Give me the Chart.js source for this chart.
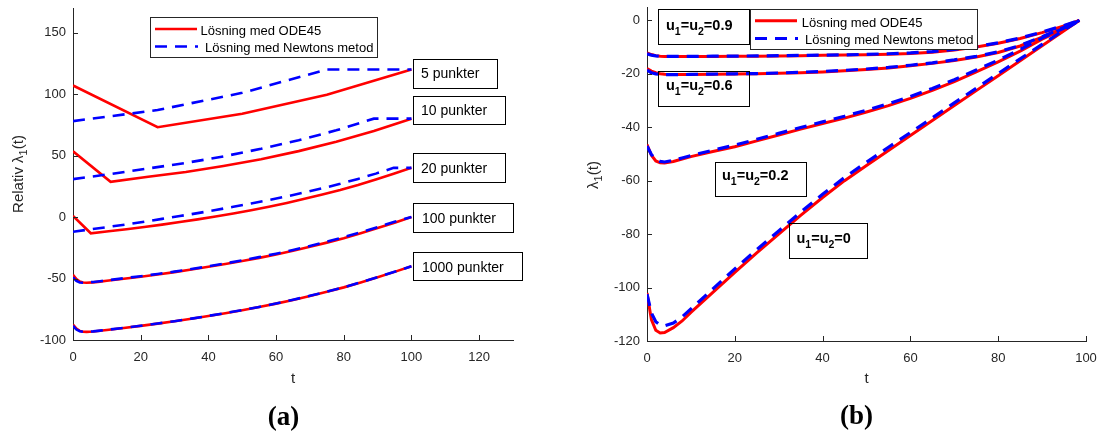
<!DOCTYPE html>
<html>
<head>
<meta charset="utf-8">
<script src="https://cdn.jsdelivr.net/npm/chart.js@4.4.1/dist/chart.umd.min.js"></script>
<style>
body { margin: 0; background: #fff; width: 1101px; height: 435px; overflow: hidden; position: relative; }
canvas { position: absolute; top: 0; }
</style>
</head>
<body>
<canvas id="chartA" width="550" height="435" style="left:0"></canvas>
<canvas id="chartB" width="551" height="435" style="left:550px"></canvas>
<script>
// (a) relative lambda_1, shifted per number of points
var tA5 = [0, 25, 50, 75, 100];
var odeA5 = [107, 73, 84, 99.5, 120];
var newtonA5 = [78, 87, 101, 120, 120];

var tA10 = [0, 11.11, 22.22, 33.33, 44.44, 55.56, 66.67, 77.78, 88.89, 100];
var odeA10 = [53.5, 28.6, 32.8, 36.6, 41.5, 47, 53.6, 61.2, 70, 80];
var newtonA10 = [30.8, 35, 39.5, 44, 49.3, 55.5, 62.5, 70.5, 80, 80];

var tA20 = [0, 5.26, 10.53, 15.79, 21.05, 26.32, 31.58, 36.84, 42.11, 47.37, 52.63, 57.89, 63.16, 68.42, 73.68, 78.95, 84.21, 89.47, 94.74, 100];
var odeA20 = [1, -13.2, -11.6, -9.9, -8.1, -6.2, -4.1, -1.9, 0.5, 2.9, 5.5, 8.4, 11.5, 14.8, 18.3, 22, 26.1, 30.6, 35.2, 40];
var newtonA20 = [-12, -10, -8, -6, -3.8, -1.5, 0.8, 3.2, 5.7, 8.3, 11, 13.8, 16.8, 20, 23.4, 27, 31, 35.3, 40, 40];

var tA = [0, 1, 2, 3, 4, 6, 8, 10, 15, 20, 25, 30, 35, 40, 45, 50, 55, 60, 65, 70, 75, 80, 85, 90, 95, 100];
var odeA100 = [-47, -50.5, -52.5, -53.2, -53.4, -53.1, -52.5, -51.8, -50.2, -48.5, -46.7, -44.8, -42.7, -40.5, -38.2, -35.8, -33.2, -30.4, -27.4, -24.2, -20.8, -17.2, -13.2, -9, -4.6, 0];
var newtonA100 = [-49, -52, -53.2, -53.4, -53.3, -52.8, -52.2, -51.5, -49.8, -48.1, -46.3, -44.4, -42.3, -40.1, -37.7, -35.3, -32.6, -29.8, -26.8, -23.5, -20.1, -16.4, -12.4, -8.2, -3.8, 0];
var odeA1000 = [-87.5, -90.8, -92.6, -93.3, -93.4, -93.1, -92.5, -91.8, -90.2, -88.5, -86.7, -84.8, -82.7, -80.5, -78.2, -75.8, -73.2, -70.4, -67.4, -64.2, -60.8, -57.2, -53.2, -49, -44.6, -40];
var newtonA1000 = [-88.5, -91.5, -92.9, -93.3, -93.4, -93, -92.4, -91.7, -90.1, -88.4, -86.6, -84.7, -82.6, -80.4, -78.1, -75.7, -73.1, -70.3, -67.3, -64.1, -60.7, -57.1, -53.1, -48.9, -44.5, -40];

var xTicksA = [0, 20, 40, 60, 80, 100, 120];
var yTicksA = [-100, -50, 0, 50, 100, 150];
var pointLabelsA = ['5 punkter', '10 punkter', '20 punkter', '100 punkter', '1000 punkter'];

// (b) lambda_1 for different u1 = u2
var tB = [0, 1, 2, 3, 4, 6, 8, 10, 15, 20, 25, 30, 35, 40, 45, 50, 55, 60, 65, 70, 75, 80, 85, 90, 95, 98.5];
var odeB09 = [-12.2, -12.8, -13.2, -13.4, -13.5, -13.5, -13.5, -13.5, -13.5, -13.4, -13.4, -13.3, -13.2, -13.1, -13, -12.9, -12.7, -12.4, -11.9, -11.1, -10, -8.6, -6.8, -4.6, -2.1, 0];
var newtonB09 = [-12.5, -13, -13.3, -13.4, -13.5, -13.5, -13.5, -13.5, -13.4, -13.4, -13.3, -13.2, -13.1, -13, -12.9, -12.7, -12.5, -12.2, -11.7, -10.9, -9.8, -8.4, -6.6, -4.4, -1.9, 0];
var odeB06 = [-18, -19, -19.6, -20, -20.2, -20.3, -20.3, -20.3, -20.2, -20.1, -20, -19.8, -19.6, -19.3, -18.9, -18.4, -17.8, -17, -16.1, -15, -13.7, -12, -9.6, -6.3, -2.8, 0];
var newtonB06 = [-18.6, -19.6, -20, -20.2, -20.3, -20.3, -20.3, -20.2, -20.1, -20, -19.9, -19.7, -19.4, -19.1, -18.7, -18.2, -17.6, -16.8, -15.9, -14.8, -13.5, -11.8, -9.4, -6.1, -2.6, 0];
var odeB02 = [-46.5, -50.5, -52.6, -53.3, -53.4, -52.8, -51.9, -51, -49.1, -47.3, -45.1, -42.9, -40.7, -38.6, -36.6, -34.3, -31.9, -29.2, -26.2, -22.9, -19.3, -15.5, -11.5, -7, -3.2, 0];
var newtonB02 = [-47, -50.2, -52, -52.8, -53, -52.4, -51.5, -50.6, -48.6, -46.7, -44.5, -42.3, -40.1, -38, -35.9, -33.6, -31.2, -28.5, -25.5, -22.2, -18.6, -14.9, -10.9, -6.6, -2.9, 0];
var odeB0 = [-102, -112, -116, -117, -116.8, -115, -112.5, -109.3, -101.8, -94.3, -87, -80, -73, -66.3, -60, -54.3, -48.7, -43.1, -37.5, -31.9, -26.3, -20.7, -15.1, -9.5, -3.9, 0];
var newtonB0 = [-102.5, -109.5, -112.8, -114, -114.3, -113.3, -111, -108, -100.5, -93, -85.8, -78.8, -71.8, -65.1, -58.8, -53.1, -47.5, -42, -36.5, -30.9, -25.4, -19.9, -14.4, -9, -3.6, 0];

var xTicksB = [0, 20, 40, 60, 80, 100];
var yTicksB = [-120, -100, -80, -60, -40, -20, 0];
var uLabelsB = ['0.9', '0.6', '0.2', '0'];

var legendTexts = ['Lösning med ODE45', 'Lösning med Newtons metod'];

var axisColor = '#262626';
var sans = '"Liberation Sans", Arial, Helvetica, sans-serif';
var odeColor = '#ff0000';
var newtonColor = '#0000ff';
var dash = [12, 8];

function pts(ts, vs) {
    return ts.map(function (t, i) { return { x: t, y: vs[i] }; });
}

function odeSet(ts, vs, w) {
    return { data: pts(ts, vs), borderColor: odeColor, borderWidth: w, pointRadius: 0, tension: 0, order: 2 };
}

function newtonSet(ts, vs, w) {
    return { data: pts(ts, vs), borderColor: newtonColor, borderWidth: w, borderDash: dash, pointRadius: 0, tension: 0, order: 1 };
}

function axisX(min, max, ticks, h) {
    return {
        type: 'linear', min: min, max: max,
        grid: { display: false, drawTicks: false },
        border: { display: true, color: axisColor, width: 1 },
        ticks: { color: axisColor, font: { family: sans, size: 13 }, padding: 10, maxRotation: 0, autoSkip: false },
        afterBuildTicks: function (s) { s.ticks = ticks.map(function (v) { return { value: v }; }); },
        afterFit: function (s) { s.height = h; s.paddingLeft = 0; s.paddingRight = 0; s.paddingTop = 0; s.paddingBottom = 0; }
    };
}

function axisY(min, max, ticks, w) {
    return {
        type: 'linear', min: min, max: max,
        grid: { display: false, drawTicks: false },
        border: { display: true, color: axisColor, width: 1 },
        ticks: { color: axisColor, font: { family: sans, size: 13 }, padding: 7, autoSkip: false },
        afterBuildTicks: function (s) { s.ticks = ticks.map(function (v) { return { value: v }; }); },
        afterFit: function (s) { s.width = w; s.paddingLeft = 0; s.paddingRight = 0; s.paddingTop = 0; s.paddingBottom = 0; }
    };
}

function inwardTicks(chart) {
    var ctx = chart.ctx, area = chart.chartArea, sx = chart.scales.x, sy = chart.scales.y;
    ctx.save();
    ctx.strokeStyle = axisColor;
    ctx.lineWidth = 1;
    ctx.beginPath();
    sx.ticks.forEach(function (t) {
        var px = Math.round(sx.getPixelForValue(t.value)) + 0.5;
        ctx.moveTo(px, area.bottom);
        ctx.lineTo(px, area.bottom - 5);
    });
    sy.ticks.forEach(function (t) {
        var py = Math.round(sy.getPixelForValue(t.value)) + 0.5;
        ctx.moveTo(area.left, py);
        ctx.lineTo(area.left + 5, py);
    });
    ctx.stroke();
    ctx.restore();
}

function legendBox(ctx, b, rows) {
    ctx.save();
    ctx.fillStyle = '#fff';
    ctx.fillRect(b[0], b[1], b[2], b[3]);
    ctx.strokeStyle = axisColor;
    ctx.lineWidth = 1;
    ctx.strokeRect(b[0] + 0.5, b[1] + 0.5, b[2], b[3]);
    rows.forEach(function (r) {
        ctx.beginPath();
        ctx.strokeStyle = r.color;
        ctx.lineWidth = r.width;
        ctx.setLineDash(r.dash);
        ctx.moveTo(r.x0, r.y);
        ctx.lineTo(r.x1, r.y);
        ctx.stroke();
        ctx.setLineDash([]);
        ctx.fillStyle = '#000';
        ctx.font = '13px ' + sans;
        ctx.textBaseline = 'alphabetic';
        ctx.fillText(r.text, r.tx, r.ty);
    });
    ctx.restore();
}

function frame(ctx, x, y, w, h) {
    ctx.save();
    ctx.strokeStyle = '#000';
    ctx.lineWidth = 1;
    ctx.strokeRect(x + 0.5, y + 0.5, w, h);
    ctx.restore();
}

// parts: [text, size, shift, bold]
function richText(ctx, parts, x, y) {
    parts.forEach(function (p) {
        ctx.font = (p[3] ? 'bold ' : '') + p[1] + 'px ' + sans;
        ctx.fillText(p[0], x, y + p[2]);
        x += ctx.measureText(p[0]).width;
    });
}

function richWidth(ctx, parts) {
    var w = 0;
    parts.forEach(function (p) {
        ctx.font = (p[3] ? 'bold ' : '') + p[1] + 'px ' + sans;
        w += ctx.measureText(p[0]).width;
    });
    return w;
}

function verticalLabel(ctx, parts, bx, cy) {
    ctx.save();
    ctx.translate(bx, cy);
    ctx.rotate(-Math.PI / 2);
    ctx.fillStyle = axisColor;
    ctx.textBaseline = 'alphabetic';
    richText(ctx, parts, -richWidth(ctx, parts) / 2, 0);
    ctx.restore();
}

function centerText(ctx, text, font, color, cx, by) {
    ctx.save();
    ctx.font = font;
    ctx.fillStyle = color;
    ctx.textAlign = 'center';
    ctx.textBaseline = 'alphabetic';
    ctx.fillText(text, cx, by);
    ctx.restore();
}

function uLabel(val) {
    return [['u', 14.5, 0, true], ['1', 10.5, 5, true], ['=', 14.5, 0, true], ['u', 14.5, 0, true], ['2', 10.5, 5, true], ['=' + val, 14.5, 0, true]];
}

var decorA = {
    id: 'decorA',
    afterDraw: function (chart) {
        var ctx = chart.ctx;
        inwardTicks(chart);
        var boxes = [[413, 59, 84, 29, 421, 78], [413, 96, 92, 28, 421, 115], [413, 153, 92, 29, 421, 172.5], [413, 203, 100, 29, 422, 222.5], [413, 252, 109, 28, 422, 272]];
        boxes.forEach(function (b, i) {
            frame(ctx, b[0], b[1], b[2], b[3]);
            ctx.save();
            ctx.fillStyle = '#000';
            ctx.font = '14px ' + sans;
            ctx.fillText(pointLabelsA[i], b[4], b[5]);
            ctx.restore();
        });
        legendBox(ctx, [150, 17, 227, 40], [
            { color: odeColor, width: 2.6, dash: [], x0: 155, x1: 197, y: 29, text: legendTexts[0], tx: 200.5, ty: 34.5 },
            { color: newtonColor, width: 2.6, dash: dash, x0: 155, x1: 198, y: 46.5, text: legendTexts[1], tx: 205, ty: 51.5 }
        ]);
        verticalLabel(ctx, [['Relativ λ', 15, 0], ['1', 11, 4], ['(t)', 15, 0]], 22.5, 174);
        centerText(ctx, 't', '15px ' + sans, axisColor, 293, 383);
        centerText(ctx, '(a)', 'bold 27px "Liberation Serif", "DejaVu Serif", serif', '#000', 283.5, 425);
    }
};

var decorB = {
    id: 'decorB',
    afterDraw: function (chart) {
        var ctx = chart.ctx;
        inwardTicks(chart);
        var boxes = [[108, 9, 91, 35, 116, 30], [108, 71, 91, 35, 116, 90], [165, 162, 91, 34, 172, 180], [239, 223, 78, 35, 246.5, 243]];
        boxes.forEach(function (b, i) {
            frame(ctx, b[0], b[1], b[2], b[3]);
            ctx.save();
            ctx.fillStyle = '#000';
            ctx.textBaseline = 'alphabetic';
            richText(ctx, uLabel(uLabelsB[i]), b[4], b[5]);
            ctx.restore();
        });
        legendBox(ctx, [200, 9, 227, 40], [
            { color: odeColor, width: 3, dash: [], x0: 205, x1: 247, y: 20.7, text: legendTexts[0], tx: 251.7, ty: 26.7 },
            { color: newtonColor, width: 3, dash: dash, x0: 205, x1: 248, y: 38.5, text: legendTexts[1], tx: 255, ty: 44.3 }
        ]);
        verticalLabel(ctx, [['λ', 15, 0], ['1', 11, 4], ['(t)', 15, 0]], 48, 175);
        centerText(ctx, 't', '15px ' + sans, axisColor, 316.5, 383);
        centerText(ctx, '(b)', 'bold 27px "Liberation Serif", "DejaVu Serif", serif', '#000', 306.5, 424);
    }
};

new Chart(document.getElementById('chartA'), {
    type: 'line',
    data: {
        datasets: [
            odeSet(tA5, odeA5, 2.6), newtonSet(tA5, newtonA5, 2.6),
            odeSet(tA10, odeA10, 2.6), newtonSet(tA10, newtonA10, 2.6),
            odeSet(tA20, odeA20, 2.6), newtonSet(tA20, newtonA20, 2.6),
            odeSet(tA, odeA100, 2.6), newtonSet(tA, newtonA100, 2.6),
            odeSet(tA, odeA1000, 2.6), newtonSet(tA, newtonA1000, 2.6)
        ]
    },
    options: {
        responsive: false,
        animation: false,
        events: [],
        layout: { padding: { left: 0, top: 8, right: 37, bottom: 0 } },
        plugins: { legend: { display: false }, tooltip: { enabled: false } },
        scales: {
            x: axisX(0, 130, xTicksA, 95),
            y: axisY(-100, 170, yTicksA, 73)
        }
    },
    plugins: [decorA]
});

new Chart(document.getElementById('chartB'), {
    type: 'line',
    data: {
        datasets: [
            odeSet(tB, odeB09, 3), newtonSet(tB, newtonB09, 3.2),
            odeSet(tB, odeB06, 3), newtonSet(tB, newtonB06, 3.2),
            odeSet(tB, odeB02, 3), newtonSet(tB, newtonB02, 3.2),
            odeSet(tB, odeB0, 3), newtonSet(tB, newtonB0, 3.2)
        ]
    },
    options: {
        responsive: false,
        animation: false,
        events: [],
        layout: { padding: { left: 0, top: 7, right: 15, bottom: 0 } },
        plugins: { legend: { display: false }, tooltip: { enabled: false } },
        scales: {
            x: axisX(0, 100, xTicksB, 94),
            y: axisY(-120, 5, yTicksB, 97)
        }
    },
    plugins: [decorB]
});
</script>
</body>
</html>
